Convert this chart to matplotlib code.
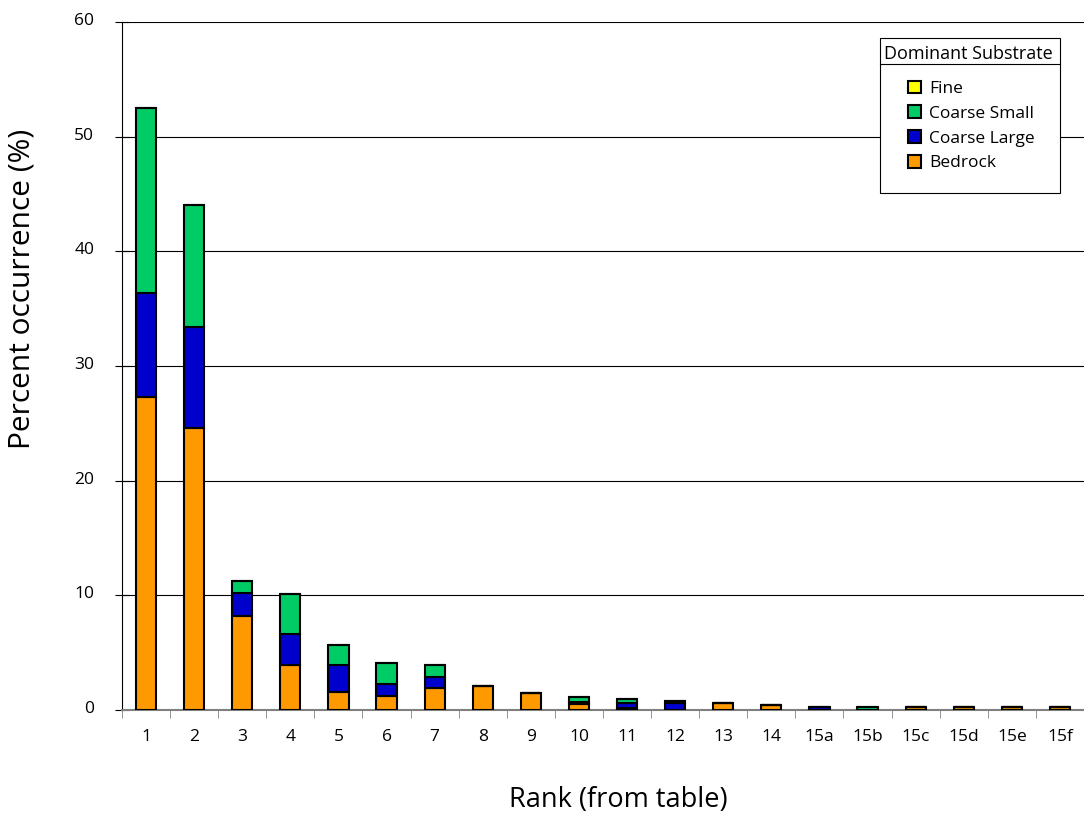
import matplotlib.pyplot as plt
import matplotlib.transforms as mtransforms
from matplotlib.patches import Rectangle
import numpy as np

plt.rcParams['font.family'] = ['Open Sans', 'DejaVu Sans']

ranks = ['1', '2', '3', '4', '5', '6', '7', '8', '9', '10', '11', '12', '13', '14',
         '15a', '15b', '15c', '15d', '15e', '15f']
bedrock = [27.3, 24.6, 8.15, 3.9, 1.57, 1.22, 1.92, 2.12, 1.48, 0.55, 0.12, 0.0, 0.61, 0.44,
           0.0, 0.0, 0.22, 0.22, 0.22, 0.22]
coarse_large = [9.1, 8.8, 2.05, 2.7, 2.3, 1.05, 0.93, 0, 0, 0.15, 0.45, 0.62, 0, 0,
                0.22, 0, 0, 0, 0, 0]
coarse_small = [16.1, 10.6, 1.05, 3.55, 1.8, 1.8, 1.07, 0, 0, 0.4, 0.35, 0.12, 0, 0,
                0, 0.22, 0, 0, 0, 0]
fine = [0] * 20

colors = {'Fine': '#ffff00', 'Coarse Small': '#00cc66',
          'Coarse Large': '#0000cc', 'Bedrock': '#ff9900'}

W, H = 1084, 815
fx = lambda px: px / W
fy = lambda py: 1 - py / H

fig = plt.figure(figsize=(W / 100, H / 100), dpi=100)
ax = fig.add_axes([0.1125, 0.129, 0.8875, 0.844])

x = np.arange(len(ranks))
w = 0.42
bottom = np.zeros(len(ranks))
for name, vals in [('Bedrock', bedrock), ('Coarse Large', coarse_large),
                   ('Coarse Small', coarse_small), ('Fine', fine)]:
    vals = np.array(vals, dtype=float)
    ax.bar(x, vals, w, bottom=bottom, color=colors[name], edgecolor='black',
           linewidth=1.5, label=name, zorder=3)
    bottom += vals

ax.set_xlim(-0.5, len(ranks) - 0.5)
ax.set_ylim(0, 60)
ax.set_yticks(np.arange(0, 61, 10))
ax.yaxis.grid(True, color='black', linewidth=0.8, zorder=0)
ax.set_axisbelow(True)
for s in ['top', 'right']:
    ax.spines[s].set_visible(False)
ax.spines['left'].set_color('black')
ax.spines['bottom'].set_color('#808080')
ax.spines['bottom'].set_linewidth(1.5)

ax.set_xticks(x)
ax.set_xticklabels(ranks, fontsize=12.5)
ax.tick_params(axis='x', length=0, pad=14)
ax.set_xticks(np.arange(-0.5, len(ranks), 1), minor=True)
ax.tick_params(axis='x', which='minor', length=6, color='#808080')
ax.tick_params(axis='y', labelsize=12.5, length=10, direction='inout', pad=15)
shift = mtransforms.ScaledTranslation(0, 3 / 100, fig.dpi_scale_trans)
for lab in ax.get_yticklabels():
    lab.set_transform(lab.get_transform() + shift)

# axis titles
fig.text(fx(22), fy(289), 'Percent occurrence (%)', rotation=90, ha='center',
         va='center', fontsize=21.5)
fig.text(fx(618), fy(800), 'Rank (from table)', ha='center', va='center',
         fontsize=19.5)

# legend box with title and separator
fig.add_artist(Rectangle((fx(880), fy(193)), fx(1060) - fx(880), fy(38) - fy(193),
                         transform=fig.transFigure, facecolor='white',
                         edgecolor='black', linewidth=0.8, zorder=10))
fig.add_artist(plt.Line2D([fx(880), fx(1060)], [fy(64), fy(64)], color='black',
                          linewidth=0.8, zorder=11))
fig.text(fx(968), fy(54), 'Dominant Substrate', ha='center', va='center',
         fontsize=13, zorder=12)

handles, labels = ax.get_legend_handles_labels()
order = ['Fine', 'Coarse Small', 'Coarse Large', 'Bedrock']
hmap = dict(zip(labels, handles))
leg = fig.legend([hmap[k] for k in order], order, loc='upper left',
                 bbox_to_anchor=(fx(899), fy(72)), fontsize=12.5, frameon=False,
                 borderpad=0, handlelength=0.75, handleheight=0.75,
                 handletextpad=0.5, labelspacing=0.48)
leg.set_zorder(12)

plt.savefig('out.png', dpi=100)
